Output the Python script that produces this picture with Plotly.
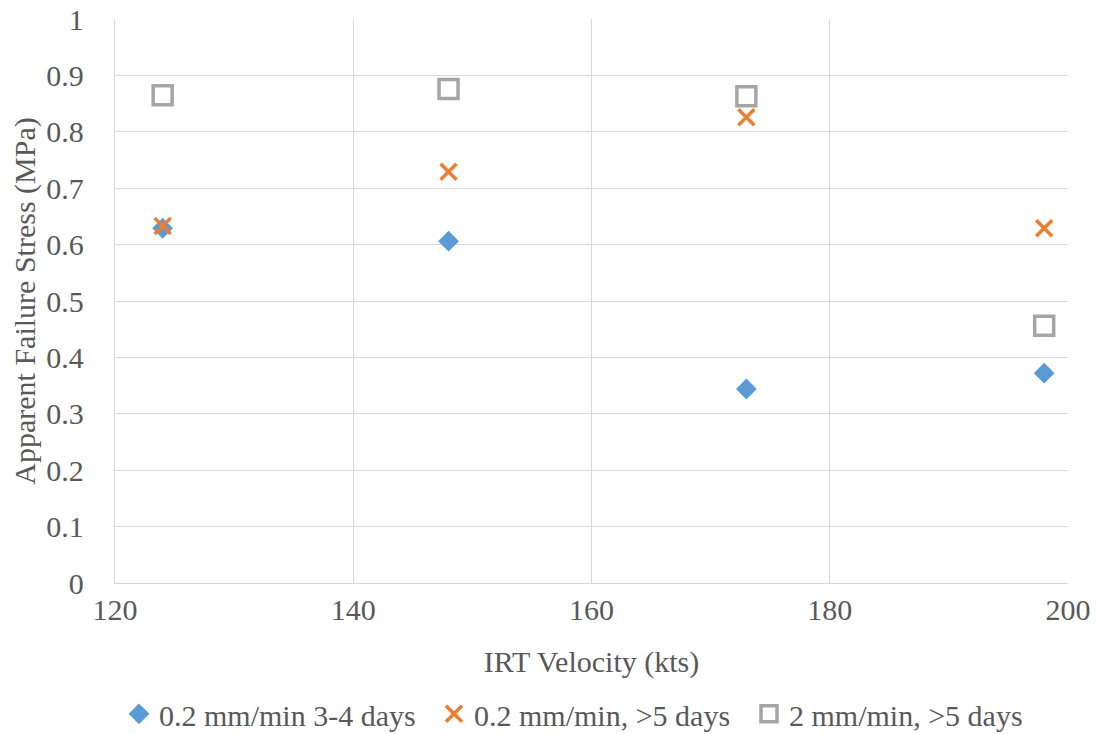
import plotly.graph_objects as go

velocity = [124, 148, 173, 198]
s1_name = "0.2 mm/min 3-4 days"
s1 = [0.629, 0.606, 0.344, 0.372]
s2_name = "0.2 mm/min, >5 days"
s2 = [0.633, 0.729, 0.826, 0.629]
s3_name = "2 mm/min, >5 days"
s3 = [0.865, 0.876, 0.863, 0.456]

FONT = "Liberation Serif, Times New Roman, serif"
TXT = "#595959"
fig = go.Figure()
fig.add_trace(go.Scatter(x=velocity, y=s1, mode="markers", name=s1_name,
                         marker=dict(symbol="diamond", size=16, color="#5B9BD5")))
fig.add_trace(go.Scatter(x=velocity, y=s2, mode="markers", name=s2_name,
                         marker=dict(symbol="x-thin", size=16, color="#ED7D31",
                                     line=dict(color="#ED7D31", width=3.5))))
fig.add_trace(go.Scatter(x=velocity, y=s3, mode="markers", name=s3_name,
                         marker=dict(symbol="square-open", size=19, color="#A5A5A5",
                                     line=dict(color="#A5A5A5", width=3.5))))

fig.update_layout(
    width=1091, height=726,
    margin=dict(l=107, r=31, t=11, b=151, autoexpand=False),
    plot_bgcolor="white", paper_bgcolor="white",
    font=dict(family=FONT, size=30, color=TXT),
    legend=dict(orientation="h", x=0.5, xanchor="center", y=-0.232, yanchor="middle",
                font=dict(family=FONT, size=30, color=TXT), itemwidth=30,
                entrywidth=270, tracegroupgap=0),
    showlegend=True,
)
fig.update_xaxes(range=[120, 200], dtick=20, tick0=120, showgrid=True, gridcolor="#D9D9D9",
                 gridwidth=1.3, zeroline=False, showline=True, linecolor="#D9D9D9", linewidth=1.3,
                 ticks="", automargin=False, ticklabelstandoff=0, ticklabeloverflow="allow",
                 title=dict(text="IRT Velocity (kts)", standoff=25,
                            font=dict(family=FONT, size=30, color=TXT)),
                 tickfont=dict(family=FONT, size=30, color=TXT))
fig.update_yaxes(range=[0, 1], dtick=0.1, showgrid=True, gridcolor="#D9D9D9", gridwidth=1.3,
                 zeroline=False, showline=True, linecolor="#D9D9D9", linewidth=1.3, mirror=False,
                 ticks="", tickformat="~g", automargin=False, ticklabelstandoff=24,
                 ticklabeloverflow="allow",
                 title=dict(text="Apparent Failure Stress (MPa)", standoff=3,
                            font=dict(family=FONT, size=30, color=TXT)),
                 tickfont=dict(family=FONT, size=30, color=TXT))
fig.write_html("out.html")
